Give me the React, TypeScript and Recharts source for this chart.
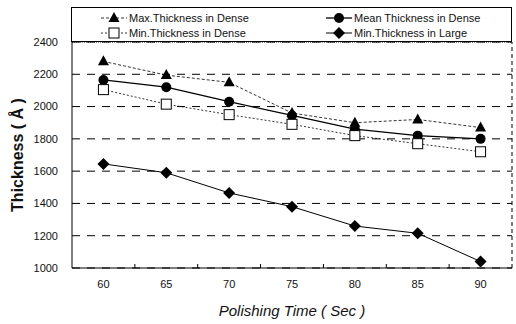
import { CartesianGrid, Legend, Line, LineChart, ReferenceLine, XAxis, YAxis } from "recharts";

const times = [60, 65, 70, 75, 80, 85, 90];
const maxDense = [2280, 2195, 2150, 1960, 1900, 1920, 1870];
const meanDense = [2165, 2120, 2030, 1945, 1860, 1820, 1800];
const minDense = [2105, 2015, 1950, 1890, 1820, 1770, 1720];
const minLarge = [1645, 1590, 1465, 1380, 1260, 1215, 1040];
const yTicks = [1000, 1200, 1400, 1600, 1800, 2000, 2200, 2400];
const xTicks = [60, 62.5, 65, 67.5, 70, 72.5, 75, 77.5, 80, 82.5, 85, 87.5, 90];

const data = times.map((t, i) => ({
  t,
  maxDense: maxDense[i],
  meanDense: meanDense[i],
  minDense: minDense[i],
  minLarge: minLarge[i],
}));

const font = "'Liberation Sans', Arial, sans-serif";

type Shape = "triangle" | "circle" | "square" | "diamond";

function marker(shape: Shape, cx: number, cy: number, key?: string) {
  if (shape === "triangle")
    return <path key={key} d={`M${cx},${cy - 6}L${cx + 5.5},${cy + 4}L${cx - 5.5},${cy + 4}Z`} fill="#000" />;
  if (shape === "circle") return <circle key={key} cx={cx} cy={cy} r={5} fill="#000" />;
  if (shape === "square")
    return <rect key={key} x={cx - 5} y={cy - 5} width={10} height={10} fill="#fff" stroke="#000" strokeWidth={1} />;
  return <path key={key} d={`M${cx},${cy - 6}L${cx + 6},${cy}L${cx},${cy + 6}L${cx - 6},${cy}Z`} fill="#000" />;
}

const makeDot = (shape: Shape) => (props: any) => marker(shape, props.cx, props.cy, `${shape}-${props.index}`);

const series = [
  { key: "maxDense", name: "Max.Thickness in Dense", shape: "triangle" as Shape, dash: "3 2", width: 0.8 },
  { key: "meanDense", name: "Mean Thickness in Dense", shape: "circle" as Shape, dash: undefined, width: 1.3 },
  { key: "minDense", name: "Min.Thickness in Dense", shape: "square" as Shape, dash: "2 2", width: 0.8 },
  { key: "minLarge", name: "Min.Thickness in Large", shape: "diamond" as Shape, dash: undefined, width: 1 },
];

function LegendBox() {
  const item = (s: (typeof series)[number]) => (
    <div key={s.key} style={{ display: "flex", alignItems: "center", height: 15 }}>
      <svg width={26} height={14} style={{ marginRight: 2 }}>
        <line x1={0} y1={7} x2={26} y2={7} stroke="#000" strokeWidth={s.width} strokeDasharray={s.dash} />
        {marker(s.shape, 13, 7)}
      </svg>
      <span>{s.name}</span>
    </div>
  );
  return (
    <div
      style={{
        boxSizing: "border-box",
        height: 35,
        border: "1px solid #000",
        fontFamily: font,
        fontSize: 11,
        color: "#111",
        display: "grid",
        gridTemplateColumns: "225px 1fr",
        padding: "2px 0 0 29px",
      }}
    >
      {item(series[0])}
      {item(series[1])}
      {item(series[2])}
      {item(series[3])}
    </div>
  );
}

function XTick(props: any) {
  const { x, y, payload } = props;
  const v = payload.value;
  if (v % 5 !== 0) return <line x1={x} y1={y} x2={x} y2={y - 4} stroke="#000" strokeWidth={1} />;
  return (
    <text x={x} y={y + 20} textAnchor="middle" fontFamily={font} fontSize={11} fill="#111">
      {v}
    </text>
  );
}

export default function App() {
  return (
    <div style={{ position: "absolute", left: 0, top: 0, background: "#fff" }}>
      <LineChart width={516} height={324} data={data} margin={{ top: 7, right: 4, bottom: 0, left: 0 }}>
        <Legend
          verticalAlign="top"
          content={() => <LegendBox />}
          wrapperStyle={{ left: 71, width: 441, top: 7 }}
        />
        <CartesianGrid vertical={false} stroke="#000" strokeDasharray="8 7" strokeWidth={1} />
        <XAxis
          dataKey="t"
          type="number"
          domain={[57.5, 92.5]}
          ticks={xTicks}
          interval={0}
          tickSize={0}
          tickMargin={0}
          tick={<XTick />}
          axisLine={{ stroke: "#000", strokeWidth: 1.2 }}
          height={56}
          label={{
            value: "Polishing Time ( Sec )",
            position: "insideBottom",
            offset: 8,
            style: { fontFamily: font, fontSize: 15, fontStyle: "italic", fill: "#111" },
          }}
        />
        <YAxis
          type="number"
          domain={[1000, 2400]}
          ticks={yTicks}
          interval={0}
          width={72}
          tickLine={false}
          tickMargin={8}
          axisLine={{ stroke: "#000", strokeWidth: 1 }}
          tick={{ fontFamily: font, fontSize: 11, fill: "#111" }}
          label={{
            value: "Thickness ( Å )",
            angle: -90,
            position: "insideLeft",
            offset: 17,
            style: { fontFamily: font, fontSize: 16, fontWeight: "bold", fill: "#111", textAnchor: "middle" },
          }}
        />
        <ReferenceLine y={2400} stroke="#000" strokeDasharray="1 1" />
        <ReferenceLine x={92.5} stroke="#000" strokeDasharray="4 3" />
        {series.map((s) => (
          <Line
            key={s.key}
            dataKey={s.key}
            name={s.name}
            type="linear"
            stroke="#000"
            strokeWidth={s.width}
            strokeDasharray={s.dash}
            dot={makeDot(s.shape)}
            activeDot={false}
            isAnimationActive={false}
          />
        ))}
      </LineChart>
    </div>
  );
}
